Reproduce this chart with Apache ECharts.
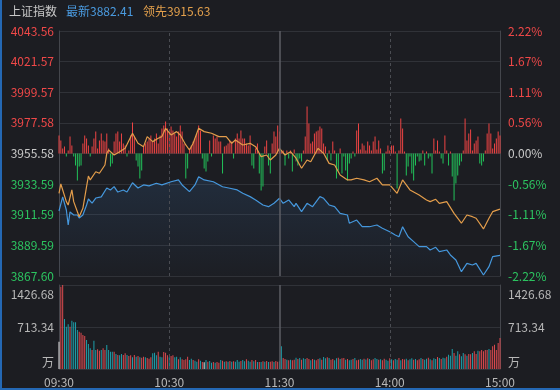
<!DOCTYPE html>
<html>
<head>
<meta charset="utf-8">
<script src="https://cdn.jsdelivr.net/npm/echarts@6/dist/echarts.min.js"></script>
<style>
html, body { margin: 0; padding: 0; background: #1c1d22; }
#chart { width: 560px; height: 390px; }
</style>
</head>
<body>
<div id="chart"></div>
<script>
// axis ticks
var timeLabels = ['09:30', '10:30', '11:30', '14:00', '15:00'];
var priceTicks = ['3867.60', '3889.59', '3911.59', '3933.59', '3955.58', '3977.58', '3999.57', '4021.57', '4043.56'];
var pctTicks = ['-2.22%', '-1.67%', '-1.11%', '-0.56%', '0.00%', '0.56%', '1.11%', '1.67%', '2.22%'];
var volTicks = ['万', '713.34', '1426.68'];
var priceMin = 3867.60, priceMax = 4043.56, priceStep = 21.995;
var volMax = 1426.68;

// 最新 (index) line, minute index -> price
var lastMin = [0, 2, 4, 5, 6, 8, 10, 11, 13, 15, 16, 18, 20, 21, 23, 26, 28, 30, 32, 35, 37, 40, 43, 46, 49, 53, 56, 61, 65, 67,
  71, 74, 76, 79, 84, 89, 93, 97, 100, 104, 107, 111, 114, 117, 120, 122, 125, 128, 129, 132, 135, 138, 142, 144, 147, 150, 153, 157, 158, 162,
  165, 169, 173, 176, 180, 183, 185, 187, 190, 193, 196, 200, 202, 205, 207, 211, 213, 216, 219, 222, 225, 227, 231, 234, 236, 240];
var lastPx = [3914.3, 3924.4, 3915.0, 3904.2, 3913.6, 3911.4, 3911.4, 3909.3, 3911.4, 3918.6, 3922.9, 3920.0, 3923.6, 3922.2, 3924.4, 3930.8, 3929.4, 3931.8, 3927.9, 3929.4, 3927.9, 3934.6, 3930.8, 3933.0, 3932.3, 3934.2, 3933.0, 3935.3, 3936.6, 3933.0,
  3928.2, 3933.0, 3938.9, 3936.6, 3935.3, 3931.7, 3930.6, 3929.4, 3927.0, 3924.6, 3922.2, 3918.6, 3917.4, 3919.8, 3923.4, 3919.8, 3922.2, 3917.4, 3919.8, 3913.8, 3919.8, 3917.4, 3924.6, 3923.4, 3918.6, 3917.4, 3912.6, 3911.4, 3905.5, 3907.8,
  3903.0, 3903.0, 3904.2, 3901.9, 3899.4, 3897.1, 3895.8, 3903.0, 3895.8, 3892.3, 3888.7, 3888.7, 3886.3, 3888.2, 3885.1, 3886.3, 3882.7, 3879.1, 3870.7, 3876.7, 3875.5, 3876.7, 3868.3, 3874.3, 3881.5, 3882.41];

// 领先 line
var leadMin = [0, 1, 4, 5, 7, 8, 10, 11, 13, 15, 16, 17, 20, 22, 25, 26, 27, 30, 33, 36, 40, 43, 46, 48, 51, 54, 56, 58, 61, 64,
  66, 69, 71, 73, 76, 79, 83, 87, 91, 94, 96, 100, 104, 107, 110, 113, 115, 118, 120, 123, 126, 129, 132, 135, 137, 141, 144, 147, 150, 153,
  157, 159, 162, 166, 169, 173, 176, 180, 184, 187, 191, 196, 200, 202, 205, 207, 211, 215, 219, 222, 225, 227, 231, 234, 236, 240];
var leadPx = [3927.0, 3933.7, 3921.0, 3918.6, 3929.4, 3921.0, 3913.8, 3910.2, 3916.2, 3931.8, 3939.4, 3936.6, 3942.5, 3941.4, 3947.3, 3955.7, 3958.1, 3954.5, 3956.9, 3959.3, 3970.1, 3962.9, 3960.5, 3967.7, 3964.1, 3966.5, 3967.7, 3973.7, 3968.9, 3971.3,
  3968.9, 3961.7, 3958.1, 3962.9, 3973.7, 3971.3, 3970.1, 3967.7, 3967.7, 3962.9, 3965.3, 3961.7, 3962.9, 3960.5, 3953.3, 3954.5, 3950.9, 3954.5, 3959.3, 3954.5, 3956.9, 3952.2, 3945.0, 3950.9, 3949.7, 3959.3, 3955.7, 3948.5, 3947.3, 3940.1,
  3936.6, 3936.6, 3937.8, 3936.6, 3935.3, 3937.8, 3933.0, 3933.0, 3927.0, 3936.6, 3929.4, 3925.8, 3922.2, 3921.0, 3922.7, 3919.8, 3921.0, 3912.6, 3905.5, 3911.4, 3910.2, 3909.1, 3901.4, 3909.1, 3913.8, 3915.63];

// red / green breadth bars, one per minute
var breadth = [18, 13, 5, 7, -3, 3, 17, 8, -3, -12,
  -27, -13, -12, 10, 18, 15, 8, -3, 7, 15,
  22, 5, 13, 20, 13, 12, 20, 5, -13, -10,
  12, 20, 22, 12, 20, 10, 8, -3, 3, 18,
  31, 17, -7, -13, -25, -17, 7, 10, 12, 15,
  18, 12, 15, 20, 10, 18, 25, 28, 32, 25,
  22, 27, 23, 20, 17, 22, 28, 22, 10, -25,
  -15, 5, 8, 12, 15, 20, 28, 23, -5, -15,
  -18, -8, 13, -3, 18, 15, 17, 12, 12, -20,
  7, 8, 10, 13, 12, -5, 15, 20, 15, 23,
  15, 15, 10, 8, 18, -12, -15, 5, 10, -20,
  -37, -33, 7, 13, -12, -20, 10, 22, 17, 28,
  22,
  2, 3, -12, 3, -5, 3, -18, 4, -8, -12,
  -5, -8, 3, 17, 47, 30, 10, 12, 20, 22,
  23, 27, 25, 10, 7, -7, 3, -7, 12, 3,
  -25, -17, 5, -20, -3, -17, -27, -10, -5, 2,
  -3, 23, 30, 4, 10, 8, 3, 12, 8, 3,
  12, 17, 4, 13, 5, -20, -17, 2, 8, 3,
  8, 8, 2, -35, 3, 35, 25, 2, -22, -13,
  -3, -20, -27, -12, -3, -8, -7, 3, -12, 2,
  -5, -3, -20, 15, 3, 13, 2, -5, -10, 18,
  3, -12, 2, -23, -47, -30, -22, -12, -8, 3,
  35, 13, 20, 24, 3, 10, 13, 17, -10, -12,
  -8, 3, 20, 30, 20, 5, 10, 15, 22, 18];

// volume (万), one per minute
var volume = [464, 1398, 1426, 849, 719, 758, 719, 820, 792, 792,
  662, 634, 617, 577, 560, 492, 424, 351, 323, 481,
  323, 334, 311, 323, 351, 323, 408, 323, 294, 294,
  294, 255, 238, 232, 255, 238, 266, 238, 221, 232,
  198, 238, 209, 221, 198, 192, 209, 198, 187, 175,
  198, 266, 277, 232, 294, 209, 198, 289, 277, 232,
  198, 221, 232, 198, 209, 164, 198, 164, 153, 164,
  209, 153, 175, 153, 141, 124, 164, 141, 119, 113,
  153, 124, 136, 107, 119, 107, 119, 107, 153, 141,
  124, 130, 124, 136, 124, 130, 124, 153, 124, 136,
  153, 130, 164, 141, 124, 153, 130, 153, 119, 119,
  119, 130, 124, 136, 119, 124, 130, 119, 136, 124,
  130,
  385, 187, 170, 158, 148, 158, 148, 158, 192, 170,
  187, 158, 182, 170, 187, 170, 148, 170, 158, 148,
  170, 182, 158, 204, 182, 199, 187, 158, 170, 148,
  182, 192, 170, 182, 187, 158, 170, 148, 158, 170,
  187, 148, 158, 170, 158, 175, 160, 182, 170, 150,
  165, 187, 170, 158,
  165, 150, 175, 158, 140, 182, 165, 150, 170, 158,
  187, 148, 170, 160, 175, 150, 165, 182, 158, 170,
  148, 165, 187, 170, 158, 175, 192, 165, 150, 182,
  170, 204, 187, 170, 192, 182,
  210, 240, 226, 340, 272, 226, 300, 250, 215, 272,
  250, 226, 255, 250, 272, 300, 255, 310, 300, 322,
  300, 322, 322, 340, 322, 385, 413, 323, 440, 526];
// r = up, t = down, w = flat
var volDir = 'wrrtttrttt' + 'trrrrtttrt' + 'trrtrrtttt' + 'rtrttrrtrr' + 'trtrtrrtrr' + 'rtttrttrrr' +
  'trrttrtrrr' + 'rttrttrtrw' + 'trttrtrrtr' + 'trtrtrtttr' + 'ttrttrtrtr' + 'trtrtrrtrr' + 't' +
  'trrtrtrrtr' + 'trttrrtrtr' + 'rtrttrtrrt' + 'trtrrtrttr' + 'trrttrtrtr' + 'rttrtrrttr' +
  'trttrtrrtr' + 'ttrtrrtrtt' + 'rtrttrtrtt' + 'rtttrttrtt' + 'rtrrtrrtrr' + 'rrrtrrrrrr';

var upColor = '#ef4848', downColor = '#2cc460', flatColor = '#c8c8c8';
var volColors = { r: '#dd4a4f', t: '#1e9faa', w: '#e6e6e6' };
var font = '"Noto Sans CJK SC", sans-serif';

var chart = echarts.init(document.getElementById('chart'));

function pair(xs, ys) {
  return xs.map(function (x, i) { return [x, ys[i]]; });
}

var vLines = {
  silent: true,
  symbol: 'none',
  label: { show: false },
  lineStyle: { color: '#4a4c52', width: 1, type: [3, 3] },
  data: [
    { xAxis: 60 },
    { xAxis: 180 },
    { xAxis: 120, lineStyle: { color: '#5c5e64', type: 'solid', width: 1.5 } }
  ]
};

function priceColor(v) {
  var i = Math.round((parseFloat(v) - priceMin) / priceStep);
  return i > 4 ? upColor : (i < 4 ? downColor : flatColor);
}
function pctColor(v) {
  var i = Math.round(parseFloat(v));
  return i > 4 ? upColor : (i < 4 ? downColor : flatColor);
}
function volLabel(v) {
  var i = Math.round(v / (volMax / 2));
  if (i === 2) return '{t|' + volTicks[2] + '}';
  if (i === 0) return '{b|' + volTicks[0] + '}';
  return volTicks[i];
}
var volRich = {
  t: { color: '#b8b8b8', fontSize: 12, fontFamily: font, padding: [18, 0, 0, 0] },
  b: { color: '#b8b8b8', fontSize: 12, fontFamily: font, padding: [0, 0, 14, 0] }
};

var option = {
  backgroundColor: '#1c1d22',
  animation: false,
  textStyle: { fontFamily: font },
  graphic: [
    { type: 'text', left: 9, top: 5, style: { text: '上证指数', fill: '#c8c8c8', font: '12px ' + font } },
    { type: 'text', left: 66, top: 5, style: { text: '最新' + lastPx[lastPx.length - 1].toFixed(2), fill: '#4a9be0', font: '12px ' + font } },
    { type: 'text', left: 143, top: 5, style: { text: '领先' + leadPx[leadPx.length - 1].toFixed(2), fill: '#e3a04c', font: '12px ' + font } },
    { type: 'rect', left: 0, top: 0, shape: { width: 2, height: 390 }, style: { fill: '#2468b4' } },
    { type: 'rect', left: 0, top: 388, shape: { width: 560, height: 2 }, style: { fill: '#2468b4' } }
  ],
  grid: [
    { left: 59, right: 60, top: 31, height: 245 },
    { left: 59, right: 60, top: 285, height: 84 }
  ],
  xAxis: [
    { gridIndex: 0, type: 'value', min: 0, max: 240, interval: 60,
      axisLine: { show: false }, axisTick: { show: false }, axisLabel: { show: false }, splitLine: { show: false } },
    { gridIndex: 1, type: 'value', min: 0, max: 240, interval: 60,
      axisLine: { show: false }, axisTick: { show: false }, splitLine: { show: false },
      axisLabel: { color: '#b8b8b8', fontSize: 12, margin: 7,
        formatter: function (v) { return timeLabels[Math.round(v / 60)]; } } }
  ],
  yAxis: [
    { gridIndex: 0, type: 'value', position: 'left', min: priceMin, max: priceMax, interval: priceStep,
      axisLine: { show: true, lineStyle: { color: '#44464c' } }, axisTick: { show: false },
      splitLine: { lineStyle: { color: '#303238' } },
      axisLabel: { fontSize: 12, margin: 5, color: priceColor,
        formatter: function (v) { return priceTicks[Math.round((v - priceMin) / priceStep)]; } } },
    { gridIndex: 0, type: 'value', position: 'right', min: 0, max: 8, interval: 1,
      axisLine: { show: true, lineStyle: { color: '#44464c' } }, axisTick: { show: false }, splitLine: { show: false },
      axisLabel: { fontSize: 12, margin: 8, color: pctColor,
        formatter: function (v) { return pctTicks[Math.round(v)]; } } },
    { gridIndex: 0, type: 'value', min: -122.5, max: 122.5, show: false, splitLine: { show: false } },
    { gridIndex: 1, type: 'value', position: 'left', min: 0, max: volMax, interval: volMax / 2,
      axisLine: { show: true, lineStyle: { color: '#44464c' } }, axisTick: { show: false },
      splitLine: { lineStyle: { color: '#303238' } },
      axisLabel: { fontSize: 12, margin: 5, color: '#b8b8b8', formatter: volLabel, rich: volRich } },
    { gridIndex: 1, type: 'value', position: 'right', min: 0, max: volMax, interval: volMax / 2,
      axisLine: { show: true, lineStyle: { color: '#44464c' } }, axisTick: { show: false }, splitLine: { show: false },
      axisLabel: { fontSize: 12, margin: 8, color: '#b8b8b8', formatter: volLabel, rich: volRich } }
  ],
  series: [
    {
      name: '涨跌', type: 'bar', xAxisIndex: 0, yAxisIndex: 2, barWidth: 1,
      data: breadth.map(function (v, i) { return [i, v]; }),
      itemStyle: { color: function (p) { return p.value[1] >= 0 ? '#ee4444' : '#22c25a'; } },
      markLine: vLines
    },
    {
      name: '最新', type: 'line', xAxisIndex: 0, yAxisIndex: 0, showSymbol: false,
      data: pair(lastMin, lastPx),
      lineStyle: { color: '#4597dc', width: 1.2 },
      areaStyle: {
        origin: 'start',
        color: new echarts.graphic.LinearGradient(0, 0, 0, 1, [
          { offset: 0, color: 'rgba(60, 120, 185, 0.25)' },
          { offset: 1, color: 'rgba(60, 120, 185, 0.02)' }
        ])
      }
    },
    {
      name: '领先', type: 'line', xAxisIndex: 0, yAxisIndex: 0, showSymbol: false,
      data: pair(leadMin, leadPx),
      lineStyle: { color: '#e39d4b', width: 1.2 }
    },
    {
      name: '成交量', type: 'bar', xAxisIndex: 1, yAxisIndex: 3, barWidth: 1,
      data: volume.map(function (v, i) {
        return { value: [i, v], itemStyle: { color: volColors[volDir.charAt(i)] } };
      }),
      markLine: vLines
    }
  ]
};
chart.setOption(option);
</script>
</body>
</html>
